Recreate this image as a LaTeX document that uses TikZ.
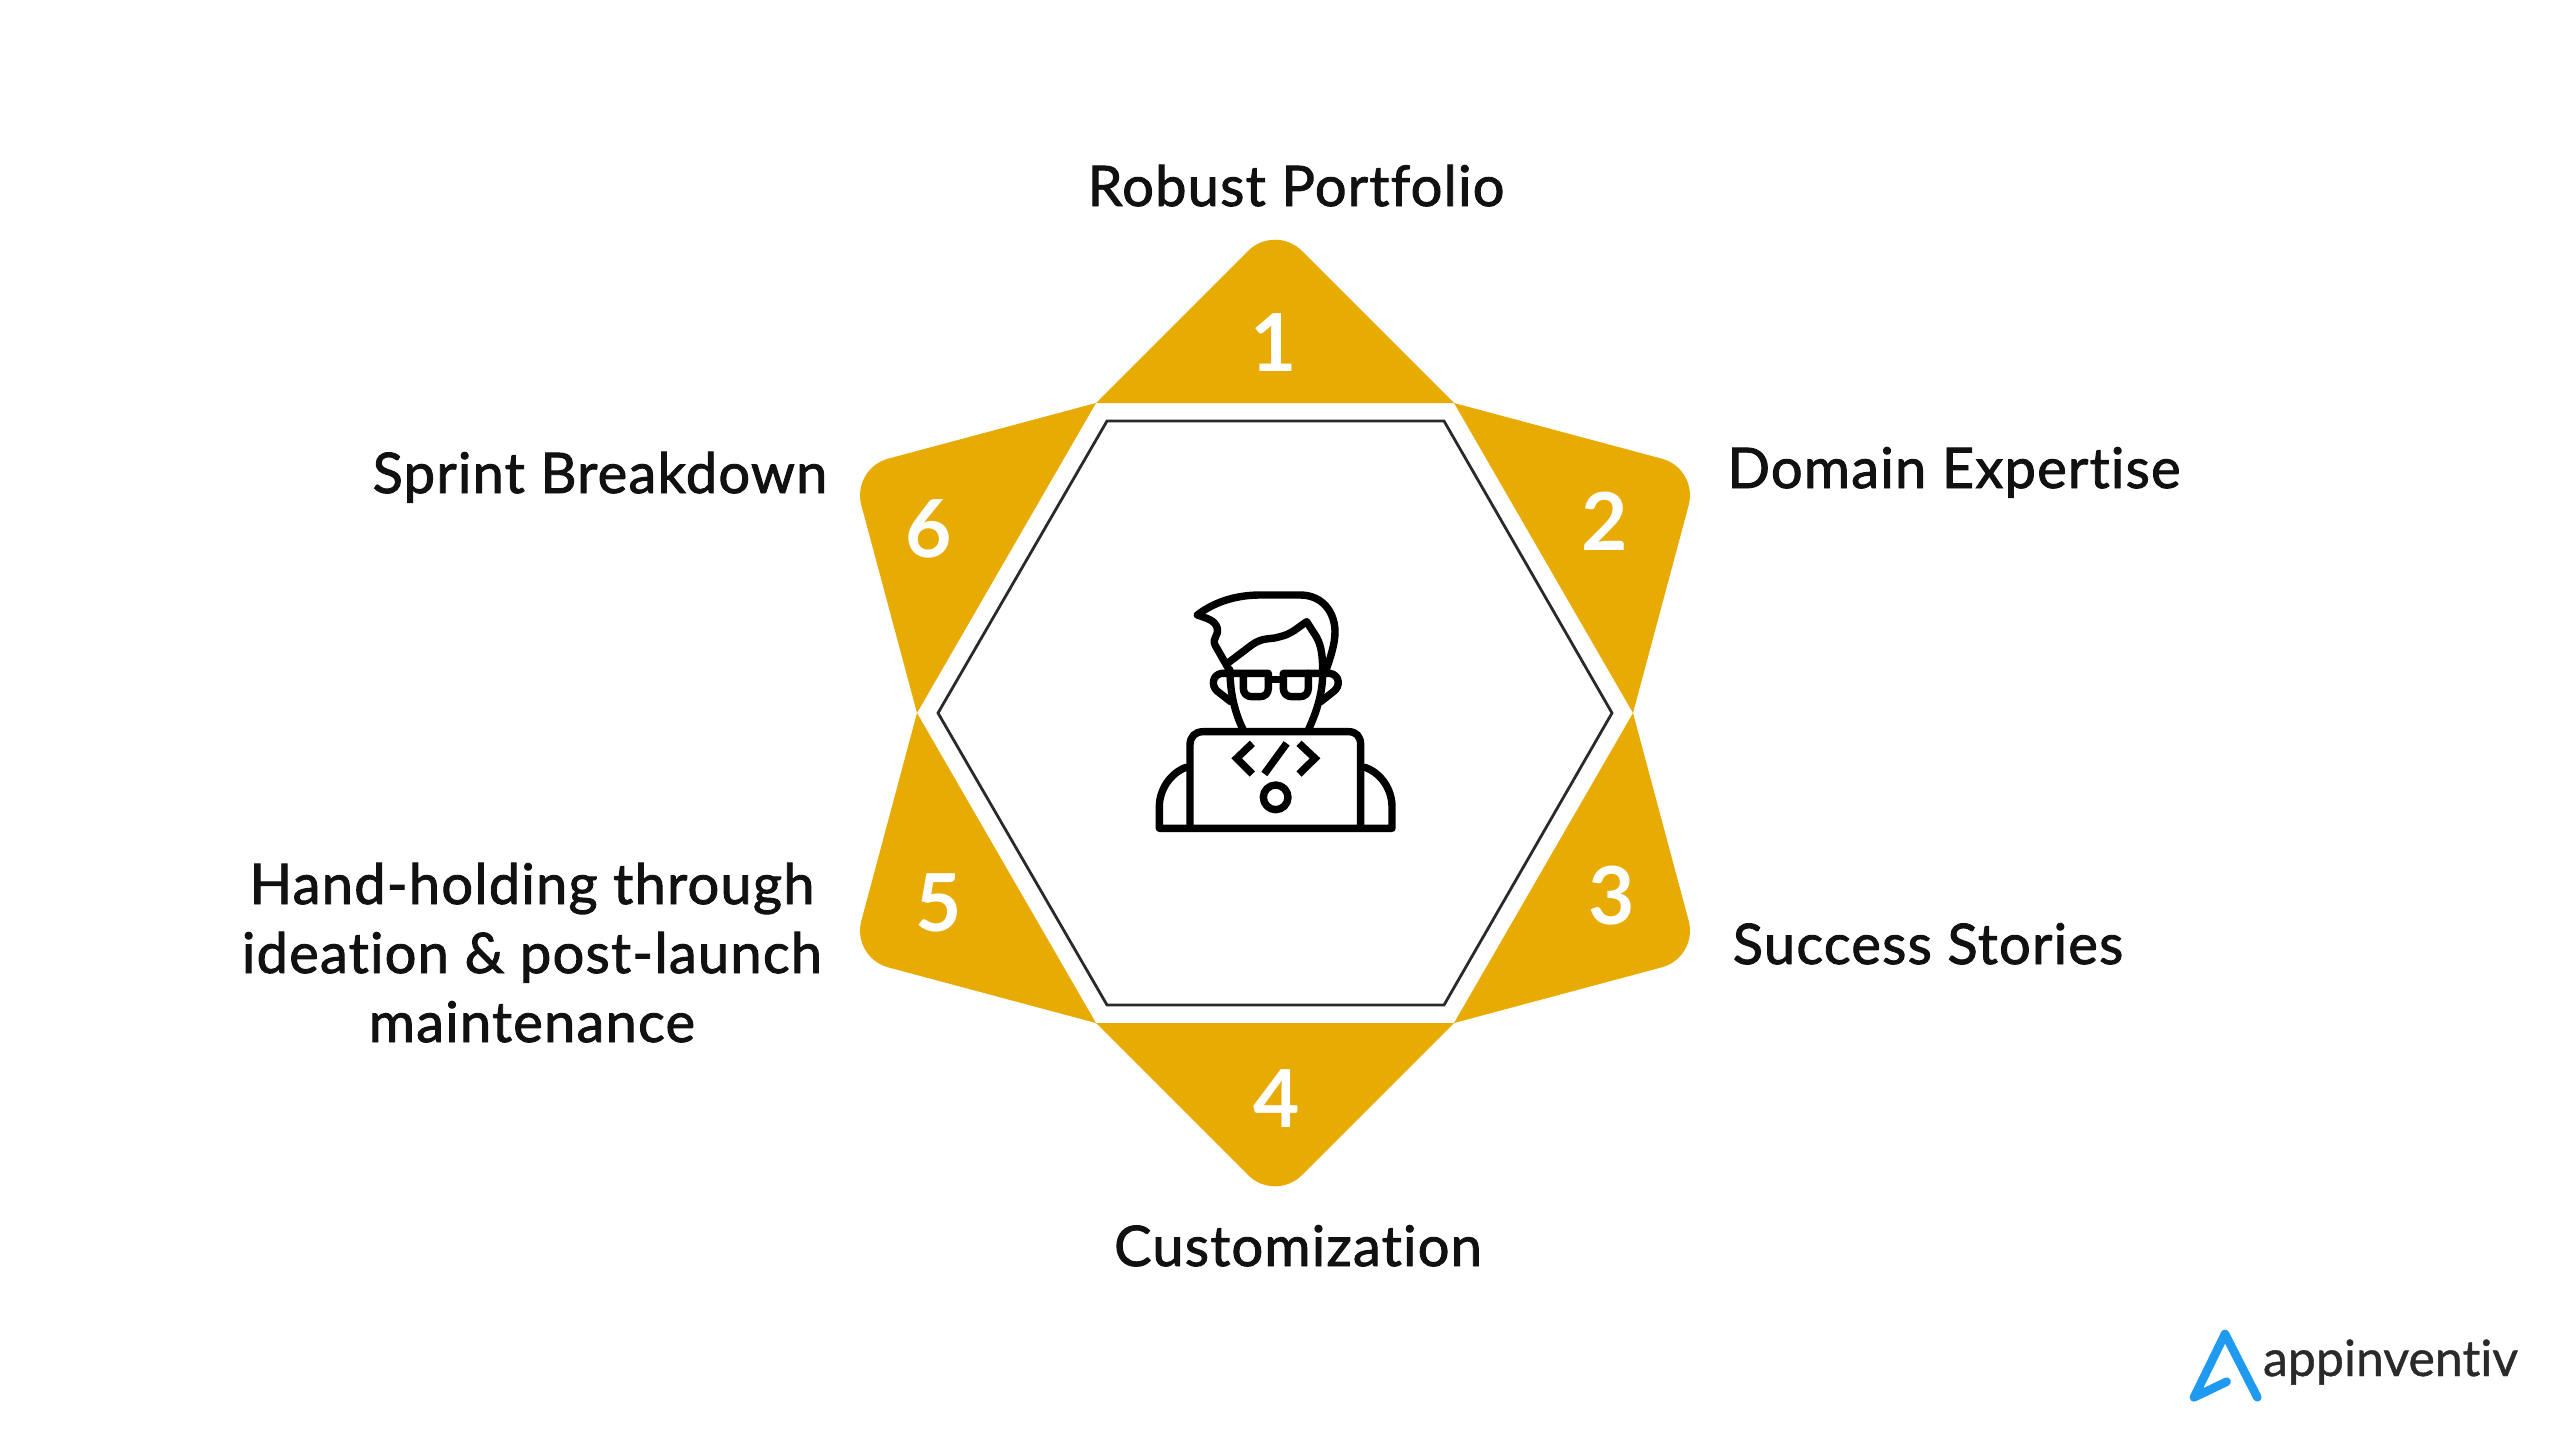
\documentclass[tikz,border=0pt]{standalone}
\usepackage{fontspec}
\usetikzlibrary{calc}
\setmainfont[Ligatures=TeX]{Lato}
\newfontfamily\lbl[FakeBold=1.6,LetterSpace=2.2,Ligatures=NoCommon]{Lato}
\newfontfamily\logof[FakeBold=0.8,Ligatures=NoCommon]{Lato}
\definecolor{gold}{HTML}{E8AB03}
\definecolor{ink}{HTML}{111111}
\definecolor{hexline}{HTML}{2A2A2A}
\definecolor{logoblue}{HTML}{1E9BF0}
\definecolor{logoink}{HTML}{2A2A2A}
\newcommand{\pointtri}[3]{%
  \fill[gold] (#1) -- ($(#2)!38pt!(#1)$) .. controls ($(#2)!17pt!(#1)$) and ($(#2)!17pt!(#3)$) .. ($(#2)!38pt!(#3)$) -- (#3) -- cycle;}
\tikzset{
  plain/.style={inner sep=0pt,outer sep=0pt},
  numb/.style={plain,text=white,font=\bfseries\fontsize{80}{80}\selectfont},
  lab/.style={plain,text=ink,anchor=base,font=\lbl\fontsize{56}{69}\selectfont},
  icon/.style={draw=black,line width=7.4pt,line join=round,line cap=round}
}
\begin{document}
\begin{tikzpicture}[x=1pt,y=-1pt]
\useasboundingbox (0,0) rectangle (2560,1440);
\fill[white] (0,0) rectangle (2560,1440);
% hexagon vertices
\coordinate (h1) at (1096,403);
\coordinate (h2) at (1454,403);
\coordinate (h3) at (1633,713);
\coordinate (h4) at (1454,1023);
\coordinate (h5) at (1096,1023);
\coordinate (h6) at (917,713);
% tips
\coordinate (t1) at (1275,224);
\coordinate (t2) at (1698.5,468.5);
\coordinate (t3) at (1698.5,957.5);
\coordinate (t4) at (1275,1202);
\coordinate (t5) at (851.5,957.5);
\coordinate (t6) at (851.5,468.5);
\pointtri{h1}{t1}{h2}
\pointtri{h2}{t2}{h3}
\pointtri{h3}{t3}{h4}
\pointtri{h4}{t4}{h5}
\pointtri{h5}{t5}{h6}
\pointtri{h6}{t6}{h1}
% inner hexagon
\draw[hexline,line width=2.8pt,line join=miter] (1107,421) -- (1444,421) -- (1612,713) -- (1444,1005) -- (1107,1005) -- (938,713) -- cycle;
% numbers
\node[numb] (n1) at (1274,343) {1};
\node[numb] (n2) at (1605,521) {2};
\node[numb] (n3) at (1612,896) {3};
\node[numb] (n4) at (1277,1099) {4};
\node[numb] (n5) at (939,903) {5};
\node[numb] (n6) at (929,529) {6};
% labels
\node[lab] (l1) at (1296,206) {Robust Portfolio};
\node[lab] (l2) at (1954,488) {Domain Expertise};
\node[lab] (l3) at (1928,964) {Success Stories};
\node[lab] (l4) at (1298,1266) {Customization};
\node[lab] (l6) at (600,493) {Sprint Breakdown};
\node[lab] (l5a) at (532,904) {Hand-holding through};
\node[lab] (l5b) at (532,973) {ideation \& post-launch};
\node[lab] (l5c) at (532,1042) {maintenance};
% developer icon (coordinates are 3x crop units)
\begin{scope}[shift={(1100,560)},x=0.33333pt,y=-0.33333pt]
  % hair
  \draw[icon] (385,325) -- (345,255) .. controls (335,235) and (358,225) .. (352,205)
     .. controls (345,180) and (320,175) .. (292,165)
     .. controls (350,120) and (420,105) .. (480,105) -- (600,105)
     .. controls (670,105) and (705,160) .. (705,215)
     .. controls (705,255) and (690,295) .. (675,340);
  % hairline and face
  \draw[icon] (385,308) -- (455,255) .. controls (490,230) and (510,240) .. (540,230)
     .. controls (575,222) and (590,205) .. (620,185) -- (650,232)
     .. controls (665,260) and (668,290) .. (668,340)
     .. controls (668,400) and (650,455) .. (625,510);
  \draw[icon] (390,330) .. controls (390,400) and (405,460) .. (430,510);
  % glasses and ears
  \draw[icon] (392,425) -- (350,392) .. controls (335,378) and (335,345) .. (365,340) -- (505,340)
     -- (505,385) .. controls (505,400) and (495,410) .. (480,410) -- (455,410)
     .. controls (440,410) and (430,400) .. (430,385) -- (430,340);
  \draw[icon] (505,358) -- (550,358);
  \draw[icon] (550,385) .. controls (550,400) and (560,410) .. (575,410) -- (600,410)
     .. controls (615,410) and (625,400) .. (625,385) -- (625,340);
  \draw[icon] (550,385) -- (550,340) -- (690,340) .. controls (720,345) and (722,380) .. (700,395) -- (662,425);
  % laptop
  \draw[icon] (270,805) -- (270,555) .. controls (270,530) and (285,515) .. (310,515) -- (745,515)
     .. controls (770,515) and (782,530) .. (782,555) -- (782,805);
  \draw[icon] (258,622) .. controls (210,640) and (178,690) .. (178,740) -- (178,805) -- (876,805) -- (876,740)
     .. controls (876,690) and (845,640) .. (795,622);
  % code glyphs
  \draw[icon,line cap=butt,line join=miter] (457,550) -- (410,595) -- (457,642);
  \draw[icon,line cap=butt] (560,550) -- (493,642);
  \draw[icon,line cap=butt,line join=miter] (597,550) -- (645,595) -- (597,642);
  \draw[icon] (527,712) circle (37);
\end{scope}
% logo
\begin{scope}[shift={(2170,1310)},x=0.33333pt,y=-0.33333pt]
  \draw[logoblue,line width=8.6pt,line cap=round,line join=round] (170,215) -- (72,262) -- (165,72) -- (262,262);
\end{scope}
\node[plain,anchor=base west,text=logoink,font=\logof\fontsize{50}{50}\selectfont] (logo) at (2263,1376) {appinventiv};
\end{tikzpicture}
\end{document}
